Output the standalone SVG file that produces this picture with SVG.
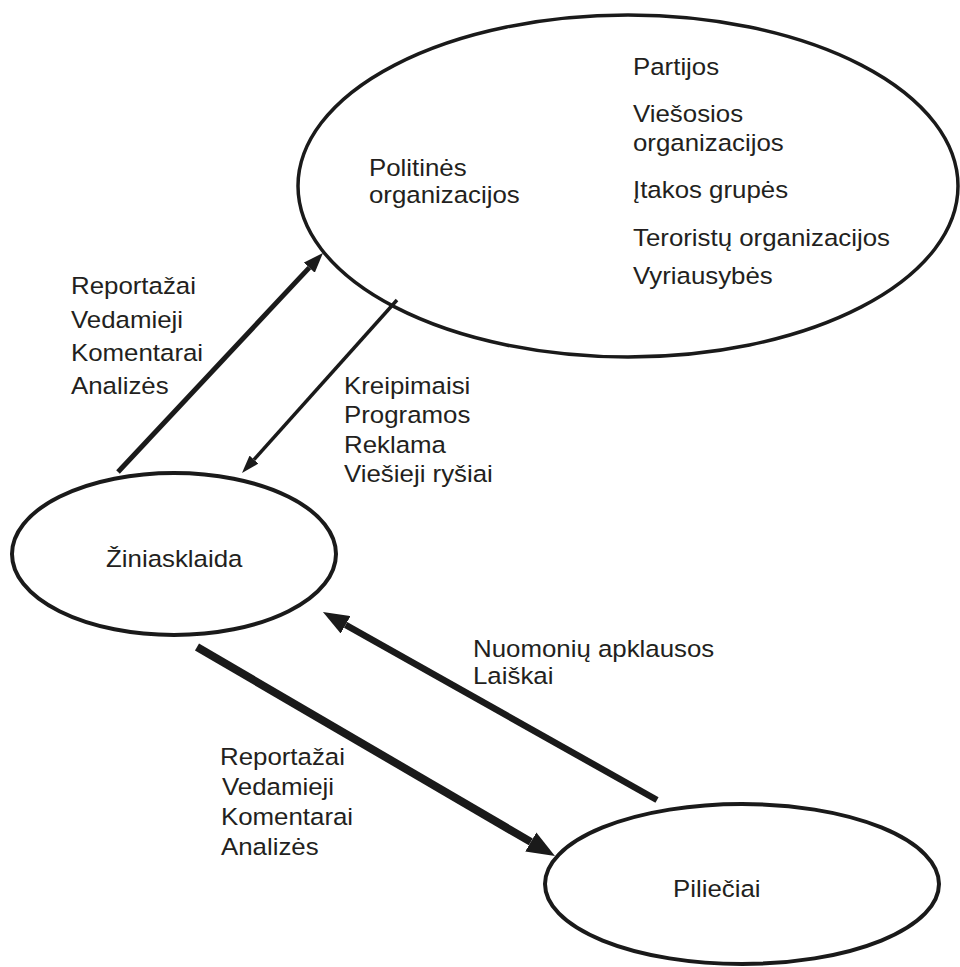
<svg xmlns="http://www.w3.org/2000/svg" width="960" height="967" viewBox="0 0 960 967">
<style>
.t{font-family:"Liberation Sans",Arial,Helvetica,sans-serif;font-size:23.5px;fill:#231f20}
.n{fill:#fff;stroke:#1a1a1a}
.c{stroke:#1a1a1a;fill:none;stroke-linecap:butt}
</style>
<defs>
<marker id="hS" markerUnits="userSpaceOnUse" viewBox="0 0 18 12" markerWidth="18" markerHeight="12" refX="0" refY="6" orient="auto"><path d="M0,0 L18,6 L0,12 Z" fill="#1a1a1a"/></marker>
<marker id="hM" markerUnits="userSpaceOnUse" viewBox="0 0 20 15" markerWidth="20" markerHeight="15" refX="0" refY="7.5" orient="auto"><path d="M0,0 L20,7.5 L0,15 Z" fill="#1a1a1a"/></marker>
<marker id="hL" markerUnits="userSpaceOnUse" viewBox="0 0 26 20" markerWidth="26" markerHeight="20" refX="0" refY="10" orient="auto"><path d="M0,0 L26,10 L0,20 Z" fill="#1a1a1a"/></marker>
<marker id="hX" markerUnits="userSpaceOnUse" viewBox="0 0 28 22" markerWidth="28" markerHeight="22" refX="0" refY="11" orient="auto"><path d="M0,0 L28,11 L0,22 Z" fill="#1a1a1a"/></marker>
</defs>
<rect width="960" height="967" fill="#fff"/>
<g id="politines">
<ellipse class="n" cx="628" cy="186" rx="330" ry="171" stroke-width="3.5"/>
<text class="t" transform="translate(369,176) scale(1.1,1)">Politinės</text>
<text class="t" transform="translate(369,203) scale(1.1,1)">organizacijos</text>
<text class="t" transform="translate(633,75) scale(1.1,1)">Partijos</text>
<text class="t" transform="translate(633,122) scale(1.1,1)">Viešosios</text>
<text class="t" transform="translate(633,151) scale(1.1,1)">organizacijos</text>
<text class="t" transform="translate(633,198) scale(1.1,1)">Įtakos grupės</text>
<text class="t" transform="translate(633,246) scale(1.1,1)">Teroristų organizacijos</text>
<text class="t" transform="translate(633,284) scale(1.1,1)">Vyriausybės</text>
</g>
<g id="ziniasklaida">
<ellipse class="n" cx="174" cy="554" rx="162" ry="81" stroke-width="4"/>
<text class="t" transform="translate(106,567) scale(1.1,1)">Žiniasklaida</text>
</g>
<g id="pilieciai">
<ellipse class="n" cx="742" cy="884" rx="197" ry="80" stroke-width="4"/>
<text class="t" transform="translate(673,897) scale(1.1,1)">Piliečiai</text>
</g>
<g id="connectors">
<line class="c" x1="118" y1="472" x2="309.3" y2="267.6" stroke-width="5" marker-end="url(#hM)"/>
<line class="c" x1="397" y1="300" x2="254" y2="459.6" stroke-width="3.5" marker-end="url(#hS)"/>
<line class="c" x1="657" y1="800" x2="345.6" y2="624.8" stroke-width="6.5" marker-end="url(#hL)"/>
<line class="c" x1="197" y1="647" x2="530.8" y2="841.9" stroke-width="8" marker-end="url(#hX)"/>
</g>
<g id="labels">
<text class="t" transform="translate(71,294) scale(1.1,1)">Reportažai</text>
<text class="t" transform="translate(71,328) scale(1.1,1)">Vedamieji</text>
<text class="t" transform="translate(71,361) scale(1.1,1)">Komentarai</text>
<text class="t" transform="translate(71,394) scale(1.1,1)">Analizės</text>
<text class="t" transform="translate(344,394) scale(1.1,1)">Kreipimaisi</text>
<text class="t" transform="translate(344,423) scale(1.1,1)">Programos</text>
<text class="t" transform="translate(344,453) scale(1.1,1)">Reklama</text>
<text class="t" transform="translate(344,482) scale(1.1,1)">Viešieji ryšiai</text>
<text class="t" transform="translate(473,657) scale(1.1,1)">Nuomonių apklausos</text>
<text class="t" transform="translate(473,684) scale(1.1,1)">Laiškai</text>
<text class="t" transform="translate(220,765) scale(1.1,1)">Reportažai</text>
<text class="t" transform="translate(222,795) scale(1.1,1)">Vedamieji</text>
<text class="t" transform="translate(221,825) scale(1.1,1)">Komentarai</text>
<text class="t" transform="translate(221,855) scale(1.1,1)">Analizės</text>
</g>
</svg>
